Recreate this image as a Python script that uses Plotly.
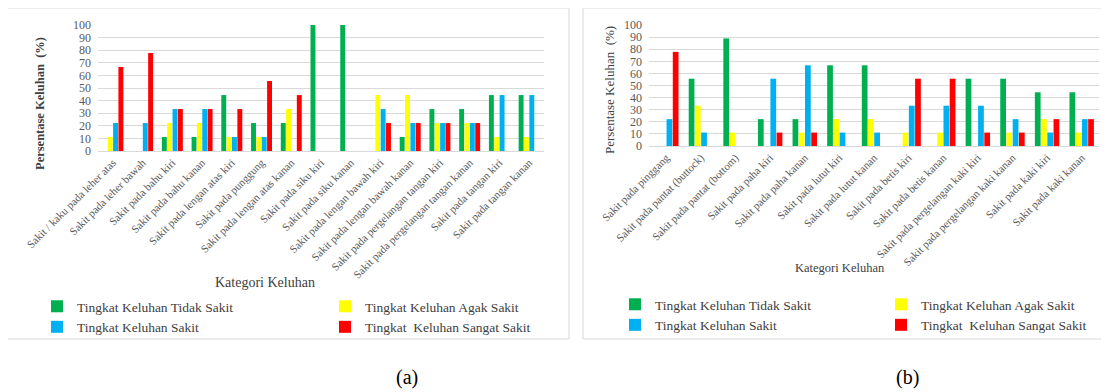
import plotly.graph_objects as go

# ---------------- data ----------------
cats_a = ["Sakit / kaku pada leher atas", "Sakit pada leher bawah", "Sakit pada bahu kiri",
          "Sakit pada bahu kanan", "Sakit pada lengan atas kiri", "Sakit pada punggung",
          "Sakit pada lengan atas kanan", "Sakit pada siku kiri", "Sakit pada siku kanan",
          "Sakit pada lengan bawah kiri", "Sakit pada lengan bawah kanan",
          "Sakit pada pergelangan tangan kiri", "Sakit pada pergelangan tangan kanan",
          "Sakit pada tangan kiri", "Sakit pada tangan kanan"]
tidak_a = [0, 0, 11.1, 11.1, 44.4, 22.2, 22.2, 100, 100, 0, 11.1, 33.3, 33.3, 44.4, 44.4]
agak_a = [11.1, 0, 22.2, 22.2, 11.1, 11.1, 33.3, 0, 0, 44.4, 44.4, 22.2, 22.2, 11.1, 11.1]
sakit_a = [22.2, 22.2, 33.3, 33.3, 11.1, 11.1, 0, 0, 0, 33.3, 22.2, 22.2, 22.2, 44.4, 44.4]
sangat_a = [66.7, 77.8, 33.3, 33.3, 33.3, 55.6, 44.4, 0, 0, 22.2, 22.2, 22.2, 22.2, 0, 0]

cats_b = ["Sakit pada pinggang", "Sakit pada pantat (buttock)", "Sakit pada pantat (bottom)",
          "Sakit pada paha kiri", "Sakit pada paha kanan", "Sakit pada lutut kiri",
          "Sakit pada lutut kanan", "Sakit pada betis kiri", "Sakit pada betis kanan",
          "Sakit pada pergelangan kaki kiri", "Sakit pada pergelangan kaki kanan",
          "Sakit pada kaki kiri", "Sakit pada kaki kanan"]
tidak_b = [0, 55.6, 88.9, 22.2, 22.2, 66.7, 66.7, 0, 0, 55.6, 55.6, 44.4, 44.4]
agak_b = [0, 33.3, 11.1, 0, 11.1, 22.2, 22.2, 11.1, 11.1, 0, 11.1, 22.2, 11.1]
sakit_b = [22.2, 11.1, 0, 55.6, 66.7, 11.1, 11.1, 33.3, 33.3, 33.3, 22.2, 11.1, 22.2]
sangat_b = [77.8, 0, 0, 11.1, 11.1, 0, 0, 55.6, 55.6, 11.1, 11.1, 22.2, 22.2]

series_names = ["Tingkat Keluhan Tidak Sakit", "Tingkat Keluhan Agak Sakit",
                "Tingkat Keluhan Sakit", "Tingkat  Keluhan Sangat Sakit"]
y_ticks = [0, 10, 20, 30, 40, 50, 60, 70, 80, 90, 100]

# ---------------- style ----------------
OFF = 8                      # page body margin of the browser
W, H = 1109 - OFF, 392 - OFF
colors = ["#00B050", "#FFFF00", "#00B0F0", "#FF0000"]
FONT = "Liberation Serif"
GRAY = "#595959"

def px_x(p):
    return (p - OFF) / W

def px_y(p):
    return 1 - (p - OFF) / H

fig = go.Figure()

legends_a = ["legend", "legend2", "legend", "legend2"]
legends_b = ["legend3", "legend4", "legend3", "legend4"]

for i, vals in enumerate([tidak_a, agak_a, sakit_a, sangat_a]):
    fig.add_trace(go.Bar(x=cats_a, y=vals, name=series_names[i], marker_color=colors[i],
                         marker_line_width=0, xaxis="x", yaxis="y", legend=legends_a[i]))
for i, vals in enumerate([tidak_b, agak_b, sakit_b, sangat_b]):
    fig.add_trace(go.Bar(x=cats_b, y=vals, name=series_names[i], marker_color=colors[i],
                         marker_line_width=0, xaxis="x2", yaxis="y2", legend=legends_b[i]))

axis_common_x = dict(tickangle=-45, tickfont=dict(family=FONT, size=11, color=GRAY),
                     showgrid=False, showline=True, linecolor="#D9D9D9", linewidth=1,
                     ticks="", fixedrange=True, automargin=False)
axis_common_y = dict(range=[0, 100], tickvals=y_ticks, tickfont=dict(family=FONT, size=12, color=GRAY),
                     showgrid=True, gridcolor="#D9D9D9", gridwidth=1.2, zeroline=False,
                     showline=False, ticks="", ticklabelstandoff=6, fixedrange=True,
                     automargin=False)

fig.update_layout(
    width=W, height=H, margin=dict(l=0, r=0, t=0, b=0, autoexpand=False),
    paper_bgcolor="white", plot_bgcolor="white",
    barmode="group", bargap=0.28, bargroupgap=0.08,
    font=dict(family=FONT, color="#404040"),
    xaxis=dict(domain=[px_x(98), px_x(544)], anchor="y", **axis_common_x),
    yaxis=dict(domain=[px_y(151), px_y(25)], anchor="x", **axis_common_y),
    xaxis2=dict(domain=[px_x(649), px_x(1099)], anchor="y2", **axis_common_x),
    yaxis2=dict(domain=[px_y(146), px_y(25)], anchor="x2", **axis_common_y),
)

leg_style = dict(orientation="v", xanchor="left", yanchor="top", bgcolor="rgba(0,0,0,0)",
                 font=dict(family=FONT, size=13.5, color="#404040"), itemwidth=30,
                 traceorder="normal")
fig.update_layout(
    legend=dict(x=px_x(37), y=px_y(291), **leg_style),
    legend2=dict(x=px_x(325), y=px_y(291), **leg_style),
    legend3=dict(x=px_x(615), y=px_y(289), **leg_style),
    legend4=dict(x=px_x(881), y=px_y(289), **leg_style),
)

# panel borders
for x0, x1 in [(7, 569), (583, 1104)]:
    fig.add_shape(type="rect", xref="paper", yref="paper",
                  x0=px_x(x0), x1=px_x(x1), y0=px_y(339), y1=px_y(8),
                  line=dict(color="#D9D9D9", width=1), fillcolor="rgba(0,0,0,0)", layer="below")

ann = [
    dict(x=px_x(40), y=px_y(104), text="<b>Persentase Keluhan  (%)</b>", textangle=-90,
         font=dict(family=FONT, size=12.5, color="#404040")),
    dict(x=px_x(610), y=px_y(90), text="Persentase Keluhan  (%)", textangle=-90,
         font=dict(family=FONT, size=13, color="#404040")),
    dict(x=px_x(265), y=px_y(282), text="Kategori Keluhan",
         font=dict(family=FONT, size=14, color="#404040")),
    dict(x=px_x(840), y=px_y(268), text="Kategori Keluhan",
         font=dict(family=FONT, size=12.5, color="#404040")),
    dict(x=px_x(407), y=px_y(377), text="(a)", font=dict(family=FONT, size=20, color="#000000")),
    dict(x=px_x(907), y=px_y(377), text="(b)", font=dict(family=FONT, size=20, color="#000000")),
]
for a in ann:
    fig.add_annotation(xref="paper", yref="paper", showarrow=False,
                       xanchor="center", yanchor="middle", **a)

fig.write_html("out.html")
